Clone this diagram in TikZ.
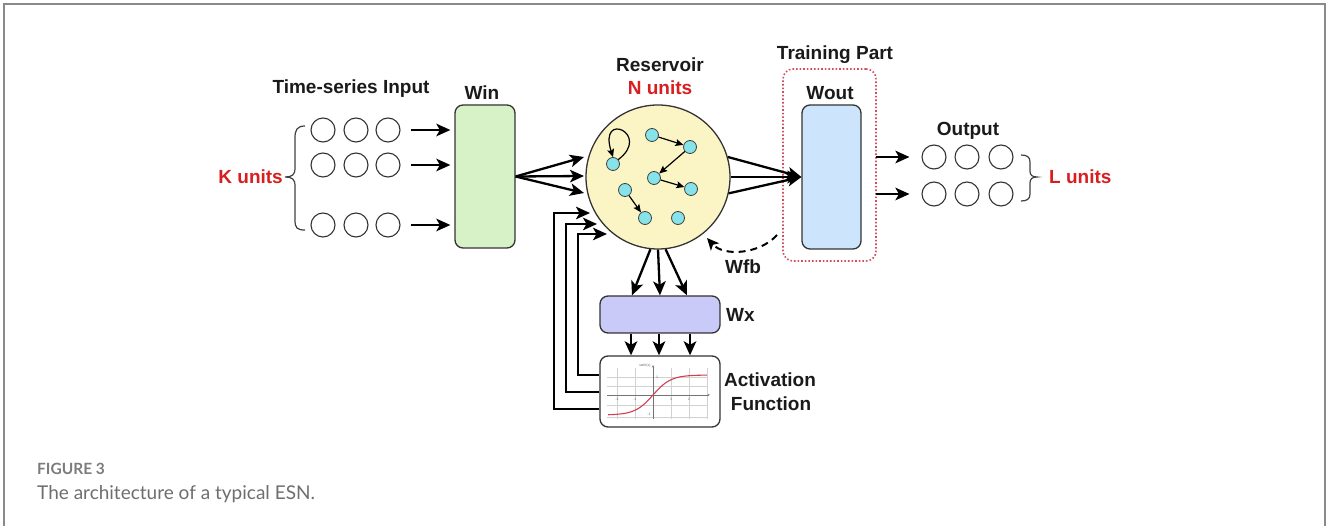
\documentclass[tikz,border=0pt]{standalone}
\usepackage{fontspec}
\setmainfont{Liberation Sans}
\newfontfamily\capfont{Lato}
\usetikzlibrary{arrows.meta,calc}

\definecolor{txt}{HTML}{1A1A1A}
\definecolor{kred}{HTML}{D81E1E}
\definecolor{framegray}{HTML}{8A8A8A}
\definecolor{capgray}{HTML}{6E6E6E}
\definecolor{winfill}{HTML}{D8F2C8}
\definecolor{woutfill}{HTML}{CCE4FC}
\definecolor{wxfill}{HTML}{CACAF8}
\definecolor{resfill}{HTML}{FBF5C6}
\definecolor{cellfill}{HTML}{86E3EA}
\definecolor{trainred}{HTML}{D2505E}
\definecolor{curvered}{HTML}{D2404E}

\tikzset{
  lbl/.style={font=\fontsize{19}{21}\selectfont\bfseries, text=txt, anchor=base, inner sep=0pt},
  redlbl/.style={lbl, text=kred},
  unit/.style={circle, draw=black!80, line width=1.1pt, minimum size=24pt, inner sep=0pt},
  cell/.style={circle, draw=black!75, fill=cellfill, line width=0.8pt, minimum size=13pt, inner sep=0pt},
  box/.style={draw=black!80, line width=1.3pt, rounded corners=8pt, inner sep=0pt},
  arr/.style={line width=2.3pt, -{Stealth[length=14pt,width=12.5pt,inset=3.5pt]}},
  thinarr/.style={line width=1.2pt, -{Stealth[length=8pt,width=7pt,inset=1.5pt]}},
  bracestyle/.style={draw=black!75, line width=1.2pt},
}

\begin{document}
\begin{tikzpicture}[x=1pt,y=-1pt]
\useasboundingbox (0,0) rectangle (1328,526);

% outer frame (open at the bottom)
\draw[framegray, line width=2pt] (4,526) -- (4,4) -- (1325,4) -- (1325,526);

% ---------------- input layer ----------------
\node[lbl] (tsin) at (351,93.5) {Time-series Input};
\node[redlbl, anchor=base east] (kunits) at (283,183.5) {K units};

\foreach \r/\y in {1/130,2/165,3/225}{
  \node[unit] (i\r1) at (323,\y) {};
  \node[unit] (i\r2) at (356,\y) {};
  \node[unit] (i\r3) at (388,\y) {};
}
\draw[bracestyle] (305,126) .. controls (297,126) and (295,130) .. (295,138) -- (295,168)
  .. controls (295,175) and (292,177) .. (285,177)
  .. controls (292,177) and (295,179) .. (295,186) -- (295,220)
  .. controls (295,228) and (297,230) .. (305,230);

% W_in
\node[box, fill=winfill, minimum width=60pt, minimum height=143pt] (win) at (485,176.5) {};
\node[lbl] (winlbl) at (482,99.5) {Win};

\foreach \r in {1,2,3}{
  \draw[arr, shorten <=10pt, shorten >=4pt] (i\r3.east) -- (win.west |- i\r3);
}

% ---------------- reservoir ----------------
\node[circle, draw=black!80, fill=resfill, line width=1.3pt, minimum size=144pt, inner sep=0pt] (res) at (658,177) {};
\node[lbl] (reslbl) at (660,71.5) {Reservoir};
\node[redlbl] (nunits) at (660,94.5) {N units};

\coordinate (rin1) at (584,157);
\coordinate (rin2) at (584,176);
\coordinate (rin3) at (584,193);
\foreach \k in {1,2,3}{ \draw[arr] (win.east) -- (rin\k); }

% reservoir cells
\node[cell] (ca) at (613,164) {};
\node[cell] (cb) at (652,135) {};
\node[cell] (cc) at (690,147) {};
\node[cell] (cd) at (654,178) {};
\node[cell] (ce) at (691,189) {};
\node[cell] (cf) at (625,190) {};
\node[cell] (cg) at (645,218) {};
\node[cell] (ch) at (678,218) {};

\draw[thinarr] (cb) -- (cc);
\draw[thinarr] (cc) -- (cd);
\draw[thinarr] (cd) -- (ce);
\draw[thinarr] (cf) -- (cg);
\draw[thinarr] (ca.40) .. controls (652,134) and (598,110) .. (ca.north);

% ---------------- training part / W_out ----------------
\node[draw=trainred, dotted, line width=1.6pt, rounded corners=10pt, minimum width=93pt, minimum height=192pt, inner sep=0pt] (train) at (829.5,165) {};
\node[lbl] (trainlbl) at (835,59.5) {Training Part};

\node[box, fill=woutfill, minimum width=59pt, minimum height=144pt] (wout) at (831.5,177) {};
\node[lbl] (woutlbl) at (830,99.5) {Wout};

\foreach \a in {16,0,-13}{ \draw[arr] (res.\a) -- (wout.west); }

% feedback W_fb
\coordinate (fbs) at (777,235);
\coordinate (fbe) at (707,238);
\draw[line width=2pt, dash pattern=on 7pt off 5pt, -{Stealth[length=12pt,width=11pt,inset=3pt]}]
  (fbs) .. controls (760,254) and (724,257) .. (fbe);
\node[lbl] (wfb) at (743,273.5) {Wfb};

% ---------------- output layer ----------------
\node[lbl] (outlbl) at (968,135.5) {Output};
\foreach \r/\y in {1/157,2/194}{
  \node[unit] (o\r1) at (934,\y) {};
  \node[unit] (o\r2) at (967,\y) {};
  \node[unit] (o\r3) at (1001,\y) {};
  \draw[arr, shorten <=14pt, shorten >=12pt] (wout.east |- o\r1) -- (o\r1.west);
}
\draw[bracestyle] (1021,155) .. controls (1027,155) and (1030,157) .. (1030,162) -- (1030,171)
  .. controls (1030,175) and (1032,177) .. (1037,177)
  .. controls (1032,177) and (1030,179) .. (1030,183) -- (1030,194)
  .. controls (1030,199) and (1027,201) .. (1021,201);
\node[redlbl, anchor=base west] (lunits) at (1049,183.5) {L units};

% ---------------- W_x and activation ----------------
\node[box, fill=wxfill, minimum width=120pt, minimum height=37pt] (wx) at (660,314.5) {};
\node[lbl, anchor=base west] (wxlbl) at (726,321.5) {Wx};

\node[box, fill=white, minimum width=120pt, minimum height=71pt] (act) at (660,391.5) {};
\node[lbl] (actlbl1) at (770,386.5) {Activation};
\node[lbl] (actlbl2) at (771,410.5) {Function};

\draw[arr] (res.-96) -- (wx.north -| 632,0);
\draw[arr] (res.-90) -- (wx.north -| 660,0);
\draw[arr] (res.-84) -- (wx.north -| 687,0);

\foreach \x in {631,659,690}{
  \draw[arr] (wx.south -| \x,0) -- (act.north -| \x,0);
}

% tanh sketch inside the activation box
\begin{scope}
  \foreach \gx in {617,635,671,689,707}{ \draw[black!18, line width=0.5pt] (\gx,368) -- (\gx,419); }
  \foreach \gy in {377,386,405,417}{ \draw[black!18, line width=0.5pt] (607,\gy) -- (708,\gy); }
  \draw[black!55, line width=0.6pt, -{Stealth[length=2.5pt,width=2pt]}] (607,395) -- (710,395);
  \draw[black!55, line width=0.6pt, -{Stealth[length=2.5pt,width=2pt]}] (653,419) -- (653,365);
  \draw[curvered, line width=1.1pt] plot[domain=-2.5:3, samples=60] ({653+18*\x},{395-20*tanh(\x)});
  \node[font=\fontsize{3.5}{4}\selectfont, text=black!60, inner sep=0pt] (tanhlbl) at (645,366) {tanh(x)};
  \foreach \v/\px in {-2/617,-1/635,1/671,2/689}{
    \node[font=\fontsize{3.5}{4}\selectfont, text=black!60, inner sep=0pt] (tk\px) at (\px,399) {\v};
  }
  \node[font=\fontsize{3.5}{4}\selectfont, text=black!60, inner sep=0pt] (ty1) at (657,377) {1};
  \node[font=\fontsize{3.5}{4}\selectfont, text=black!60, inner sep=0pt] (ty2) at (649,414) {-1};
\end{scope}

% feedback from the activation back into the reservoir
\draw[arr] (act.west |- 0,375) -| (578,234) -- (607,234);
\draw[arr] (act.west |- 0,392) -| (566,224) -- (597,224);
\draw[arr] (act.west |- 0,409) -| (554,213) -- (590,213);

% ---------------- caption ----------------
\node[font=\capfont\fontsize{15.5}{17}\selectfont\bfseries, text=capgray!90, anchor=base west, inner sep=0pt] (fig) at (37,474.5) {FIGURE 3};
\node[font=\capfont\fontsize{19}{22}\selectfont, text=capgray, anchor=base west, inner sep=0pt] (cap) at (37,499) {The architecture of a typical ESN.};
\end{tikzpicture}
\end{document}
